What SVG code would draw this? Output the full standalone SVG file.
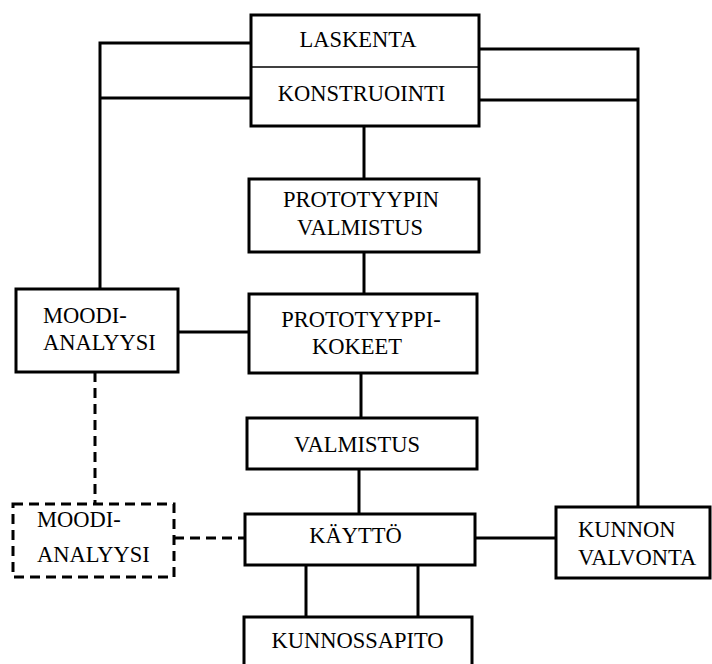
<svg xmlns="http://www.w3.org/2000/svg" width="712" height="664" viewBox="0 0 712 664">
<style>
.box{fill:#fff;stroke:#000;stroke-width:3}
.dbox{fill:#fff;stroke:#000;stroke-width:3;stroke-dasharray:10 6}
.ln{fill:none;stroke:#000;stroke-width:3}
.dl{fill:none;stroke:#000;stroke-width:3;stroke-dasharray:10 6}
text{font-family:"Liberation Serif","Times New Roman",serif;font-size:22.5px;fill:#000}
.c{text-anchor:middle}
</style>
<rect width="712" height="664" fill="#fff"/>
<g id="connectors">
<polyline class="ln" points="251,43 100,43 100,289"/>
<line class="ln" x1="100" y1="98" x2="251" y2="98"/>
<polyline class="ln" points="479,49 638,49 638,507"/>
<line class="ln" x1="479" y1="100" x2="638" y2="100"/>
<line class="ln" x1="364" y1="126" x2="364" y2="179"/>
<line class="ln" x1="364" y1="252" x2="364" y2="294"/>
<line class="ln" x1="361" y1="373" x2="361" y2="418"/>
<line class="ln" x1="359" y1="469" x2="359" y2="514"/>
<line class="ln" x1="178" y1="332" x2="249" y2="332"/>
<line class="ln" x1="475" y1="538" x2="556" y2="538"/>
<line class="ln" x1="306" y1="565" x2="306" y2="617"/>
<line class="ln" x1="418" y1="565" x2="418" y2="617"/>
<line class="dl" x1="95" y1="372" x2="95" y2="504"/>
<line class="dl" x1="174" y1="538" x2="245" y2="538"/>
</g>
<g id="laskenta">
<rect class="box" x="251" y="15" width="228" height="111"/>
<line x1="251" y1="67" x2="479" y2="67" stroke="#000" stroke-width="1.5"/>
<text class="c" x="358" y="47">LASKENTA</text>
<text class="c" x="361.5" y="101">KONSTRUOINTI</text>
</g>
<g id="prototyypin">
<rect class="box" x="249" y="179" width="230" height="73"/>
<text class="c" x="361" y="207">PROTOTYYPIN</text>
<text class="c" x="360" y="235">VALMISTUS</text>
</g>
<g id="prototyyppi">
<rect class="box" x="249" y="294" width="228" height="79"/>
<text class="c" x="361" y="327">PROTOTYYPPI-</text>
<text class="c" x="357" y="354">KOKEET</text>
</g>
<g id="valmistus">
<rect class="box" x="247" y="418" width="230" height="51"/>
<text class="c" x="357" y="452">VALMISTUS</text>
</g>
<g id="kaytto">
<rect class="box" x="245" y="514" width="230" height="51"/>
<text class="c" x="355.5" y="543">KÄYTTÖ</text>
</g>
<g id="kunnossapito">
<rect class="box" x="244" y="617" width="228" height="60"/>
<text class="c" x="357.5" y="648">KUNNOSSAPITO</text>
</g>
<g id="kunnon">
<rect class="box" x="556" y="507" width="154" height="71"/>
<text x="578" y="537">KUNNON</text>
<text x="578" y="565">VALVONTA</text>
</g>
<g id="moodi1">
<rect class="box" x="16" y="289" width="162" height="83"/>
<text x="43" y="323">MOODI-</text>
<text x="43" y="350">ANALYYSI</text>
</g>
<g id="moodi2">
<rect class="dbox" x="13" y="504" width="161" height="73"/>
<text x="37" y="527">MOODI-</text>
<text x="37" y="562">ANALYYSI</text>
</g>
</svg>
